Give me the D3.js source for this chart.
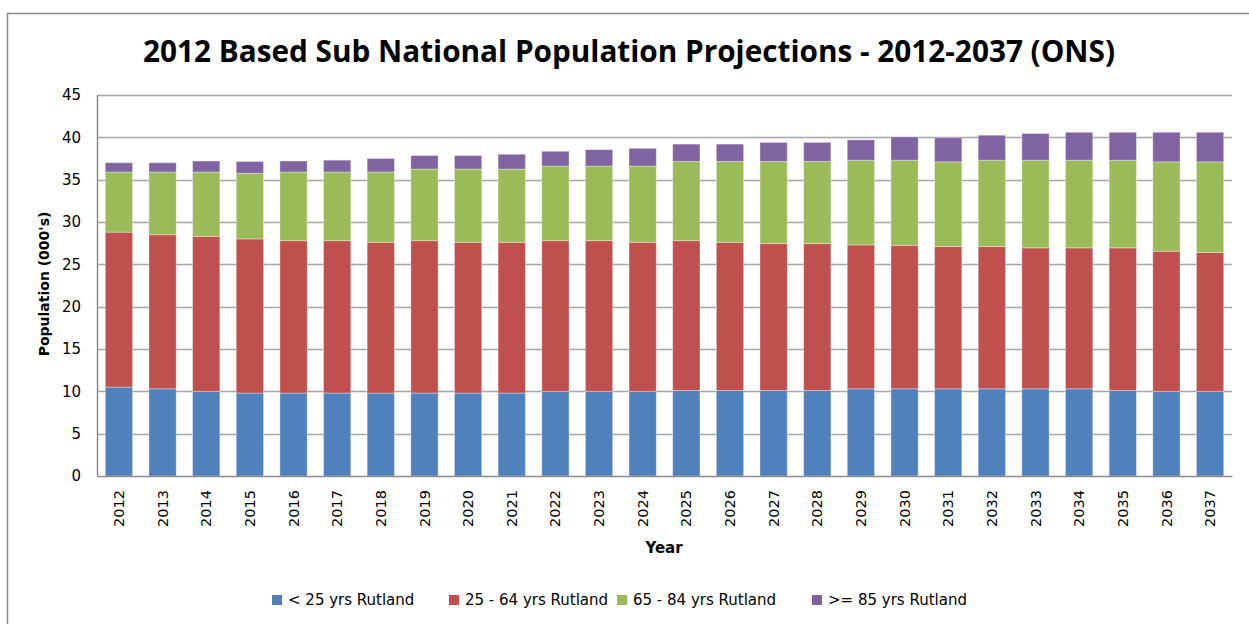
<!DOCTYPE html>
<html>
<head>
<meta charset="utf-8">
<script src="https://cdn.jsdelivr.net/npm/d3@7"></script>
<style>
  body { margin: 0; background: #fff; }
  svg { display: block; }
</style>
</head>
<body>
<div id="chart"></div>
<script>
// data (thousands)
var years = ["2012","2013","2014","2015","2016","2017","2018","2019","2020","2021","2022","2023","2024",
             "2025","2026","2027","2028","2029","2030","2031","2032","2033","2034","2035","2036","2037"];
var under25 = [10.5,10.3,10.0,9.8,9.8,9.8,9.8,9.8,9.8,9.8,10.0,10.0,10.0,
               10.1,10.1,10.1,10.1,10.3,10.3,10.3,10.3,10.3,10.3,10.1,10.0,10.0];
var age25to64 = [18.3,18.2,18.3,18.2,18.0,18.0,17.8,18.0,17.8,17.8,17.8,17.8,17.6,
                 17.7,17.5,17.35,17.35,17.0,16.95,16.8,16.8,16.65,16.65,16.85,16.55,16.4];
var age65to84 = [7.1,7.4,7.6,7.75,8.1,8.1,8.3,8.45,8.65,8.65,8.8,8.8,9.0,
                 9.35,9.55,9.7,9.7,10.0,10.05,10.0,10.2,10.35,10.35,10.35,10.55,10.7];
var over85 = [1.1,1.1,1.3,1.4,1.3,1.4,1.6,1.6,1.6,1.75,1.75,1.95,2.1,
              2.05,2.05,2.25,2.25,2.4,2.75,2.85,2.95,3.15,3.3,3.3,3.5,3.5];
var seriesNames = ["< 25 yrs Rutland","25 - 64 yrs Rutland","65 - 84 yrs Rutland",">= 85 yrs Rutland"];
var seriesColors = ["#4f81bd","#c0504d","#9bbb59","#8064a2"];
var yTicks = [0,5,10,15,20,25,30,35,40,45];

var W = 1249, H = 624;
var margin = {top: 95, right: 17, bottom: 148, left: 97};
var width = W - margin.left - margin.right,
    height = H - margin.top - margin.bottom;

var svg = d3.select("#chart").append("svg")
    .attr("width", W).attr("height", H);

// outer chart frame
svg.append("path")
    .attr("d", "M7.5," + H + " V13.5 H" + W)
    .attr("fill", "none").attr("stroke", "#8c8c8c").attr("stroke-width", 1.5);

// title
svg.append("text")
    .attr("x", 629).attr("y", 62)
    .attr("text-anchor", "middle")
    .attr("textLength", 972).attr("lengthAdjust", "spacingAndGlyphs")
    .style("font-family", "'Liberation Sans Narrow','Open Sans',sans-serif")
    .style("font-weight", "bold").style("font-size", "30px")
    .text("2012 Based Sub National Population Projections - 2012-2037 (ONS)");

var g = svg.append("g")
    .attr("transform", "translate(" + margin.left + "," + margin.top + ")");

// build rows for the stack
var table = years.map(function(y, i) {
    return {year: y, s0: under25[i], s1: age25to64[i], s2: age65to84[i], s3: over85[i]};
});
var stack = d3.stack().keys(["s0","s1","s2","s3"])(table);

var x = d3.scaleBand().domain(years).range([0, width]).paddingInner(0.375).paddingOuter(0.19);
var y = d3.scaleLinear().domain([0, 45]).range([height, 0]);

// gridlines
g.append("g").selectAll("line")
    .data(yTicks.slice(1))
    .enter().append("line")
      .attr("x1", 0).attr("x2", width)
      .attr("y1", function(d) { return Math.round(y(d)) + 0.5; })
      .attr("y2", function(d) { return Math.round(y(d)) + 0.5; })
      .attr("stroke", "#a6a6a6").attr("stroke-width", 1.3);

// bars
g.append("g").selectAll("g")
    .data(stack)
    .enter().append("g")
      .attr("fill", function(d, i) { return seriesColors[i]; })
    .selectAll("rect")
    .data(function(d) { return d; })
    .enter().append("rect")
      .attr("x", function(d) { return x(d.data.year); })
      .attr("y", function(d) { return y(d[1]); })
      .attr("width", x.bandwidth())
      .attr("height", function(d) { return y(d[0]) - y(d[1]); })
      .attr("stroke", "rgba(255,255,255,0.35)").attr("stroke-width", 1);

// y axis
var yAxis = g.append("g")
    .call(d3.axisLeft(y).tickValues(yTicks).tickSize(0).tickPadding(16));
yAxis.select(".domain").attr("stroke", "#8c8c8c").attr("stroke-width", 1.5);
yAxis.selectAll("text")
    .style("font-family", "'DejaVu Sans',sans-serif").style("font-size", "15px").attr("fill", "#000");

// x axis
var xAxis = g.append("g")
    .attr("transform", "translate(0," + height + ")")
    .call(d3.axisBottom(x).tickSize(0).tickPadding(0));
xAxis.select(".domain").attr("stroke", "#8c8c8c").attr("stroke-width", 1.5);
xAxis.selectAll("text")
    .attr("transform", "rotate(-90)")
    .attr("text-anchor", "end")
    .attr("x", -14).attr("y", 0).attr("dy", "0.35em")
    .style("font-family", "'DejaVu Sans',sans-serif").style("font-size", "14.5px").attr("fill", "#000");

// axis titles
svg.append("text")
    .attr("transform", "translate(49,284) rotate(-90)")
    .attr("text-anchor", "middle")
    .style("font-family", "'DejaVu Sans',sans-serif").style("font-weight", "bold").style("font-size", "14px")
    .text("Population (000's)");
svg.append("text")
    .attr("x", 664).attr("y", 553)
    .attr("text-anchor", "middle")
    .style("font-family", "'DejaVu Sans',sans-serif").style("font-weight", "bold").style("font-size", "15px")
    .text("Year");

// legend
var legendX = [272, 449, 617, 812];
var legend = svg.append("g").selectAll("g")
    .data(seriesNames)
    .enter().append("g")
      .attr("transform", function(d, i) { return "translate(" + legendX[i] + ",600)"; });
legend.append("rect")
    .attr("x", 0).attr("y", -5).attr("width", 10).attr("height", 10)
    .attr("fill", function(d, i) { return seriesColors[i]; });
legend.append("text")
    .attr("x", 16).attr("y", 0).attr("dy", "0.35em")
    .style("font-family", "'DejaVu Sans',sans-serif").style("font-size", "15px")
    .text(function(d) { return d; });
</script>
</body>
</html>
